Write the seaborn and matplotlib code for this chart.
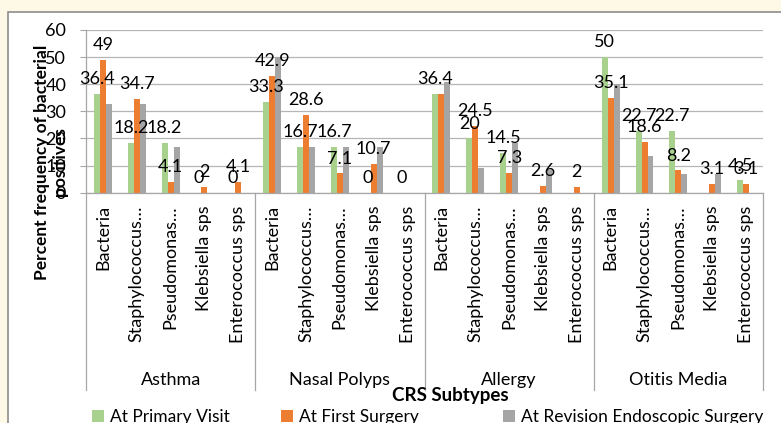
import numpy as np
import pandas as pd
import seaborn as sns
import matplotlib
matplotlib.use("Agg")
import matplotlib.pyplot as plt
import matplotlib.transforms as mtransforms
from matplotlib.patches import Rectangle, Patch

subtypes = ["Asthma", "Nasal Polyps", "Allergy", "Otitis Media"]
organisms = ["Bacteria", "Staphylococcus…", "Pseudomonas…", "Klebsiella sps", "Enterococcus sps"]
series = ["At Primary Visit", "At First Surgery", "At Revision Endoscopic Surgery"]

primary_visit = [36.4, 18.2, 18.2, 0, 0,
                 33.3, 16.7, 16.7, 0, 0,
                 36.4, 20, 14.5, 0, 0,
                 50, 22.7, 22.7, 0, 4.5]
first_surgery = [49, 34.7, 4.1, 2, 4.1,
                 42.9, 28.6, 7.1, 10.7, 0,
                 36.4, 24.5, 7.3, 2.6, 2,
                 35.1, 18.6, 8.2, 3.1, 3.1]
revision_surgery = [32.7, 32.7, 16.7, 0, 0,
                    50, 16.7, 16.7, 16.7, 0,
                    40.9, 9.1, 18.2, 8.2, 0,
                    40, 13.6, 6.8, 6.8, 0]

primary_labels = ["36.4", "18.2", "18.2", "0", "0",
                  "33.3", "16.7", "16.7", "0", "0",
                  "36.4", "20", "14.5", "", "",
                  "50", "22.7", "22.7", "", "4.5"]
first_labels = ["49", "34.7", "4.1", "2", "4.1",
                "42.9", "28.6", "7.1", "10.7", "",
                "", "24.5", "7.3", "2.6", "2",
                "35.1", "18.6", "8.2", "3.1", "3.1"]

colors = ["#A9D18E", "#ED7D31", "#A5A5A5"]

W, H = 781, 423
plt.rcParams["font.family"] = ["Lato", "DejaVu Sans"]

keys = [f"{s}|{o}" for s in subtypes for o in organisms]
rows = []
for name, vals in zip(series, [primary_visit, first_surgery, revision_surgery]):
    for k, v in zip(keys, vals):
        rows.append({"key": k, "value": v, "series": name})
df = pd.DataFrame(rows)

fig = plt.figure(figsize=(W / 100, H / 100), dpi=100, facecolor="#FEF9E7")
fig.patches.append(Rectangle((8 / W, -0.2), 1.2, (H - 12) / H + 0.2,
                             transform=fig.transFigure, facecolor="white",
                             edgecolor="#8C8C8C", lw=1.2, zorder=-10))

ax_left, ax_right, ax_top, ax_bot = 86, 763, 30, 192.7
ax = fig.add_axes([ax_left / W, (H - ax_bot) / H, (ax_right - ax_left) / W, (ax_bot - ax_top) / H])
ax.set_facecolor("none")

sns.barplot(data=df, x="key", y="value", hue="series", order=keys, hue_order=series,
            palette=colors, width=0.53, saturation=1, errorbar=None, legend=False, ax=ax,
            linewidth=0)

ax.bar_label(ax.containers[0], labels=primary_labels, padding=5, fontsize=13)
ax.bar_label(ax.containers[1], labels=first_labels, padding=5, fontsize=13)

ax.set_xlim(-0.5, len(keys) - 0.5)
ax.set_ylim(0, 60)
ax.set_yticks(range(0, 61, 10))
ax.yaxis.grid(True, color="#B5B5B5", lw=0.9)
ax.set_axisbelow(True)
for s in ["top", "right"]:
    ax.spines[s].set_visible(False)
for s in ["left", "bottom"]:
    ax.spines[s].set_color("#A6A6A6")
    ax.spines[s].set_linewidth(0.9)
ax.tick_params(axis="y", length=4.3, color="#A6A6A6", pad=10, labelsize=13)
ax.set_xticks(range(len(keys)))
ax.set_xticklabels(organisms * len(subtypes), rotation=90, fontsize=13)
ax.tick_params(axis="x", length=0, pad=9)
ax.set_xlabel("")
ax.set_ylabel("")

trans = mtransforms.blended_transform_factory(ax.transData, ax.transAxes)
span = ax_bot - ax_top
sep_bottom = (ax_bot - 390) / span
for i in range(len(subtypes) + 1):
    x = i * len(organisms) - 0.5
    ax.plot([x, x], [0, sep_bottom], transform=trans, clip_on=False, color="#A6A6A6", lw=0.9)
for i, s in enumerate(subtypes):
    ax.text(i * len(organisms) + 2, (ax_bot - 380) / span, s, transform=trans,
            ha="center", va="center", fontsize=13)

fig.text(450 / W, 1 - 395 / H, "CRS Subtypes", ha="center", va="center",
         fontsize=13.5, fontweight="bold")
fig.text(51 / W, 1 - 162 / H, "Percent frequency of bacterial\npositives", rotation=90,
         ha="center", va="center", multialignment="center", fontsize=12.5,
         fontweight="bold", linespacing=1.1)

for xpos, name, c in zip([92, 281, 503], series, colors):
    fig.legend(handles=[Patch(facecolor=c)], labels=[name], loc="center left",
               bbox_to_anchor=(xpos / W, 1 - 417 / H), frameon=False, fontsize=12.5,
               handlelength=0.7, handleheight=0.7, handletextpad=0.35,
               borderpad=0, borderaxespad=0)

fig.savefig("out.png", dpi=100, facecolor=fig.get_facecolor())
